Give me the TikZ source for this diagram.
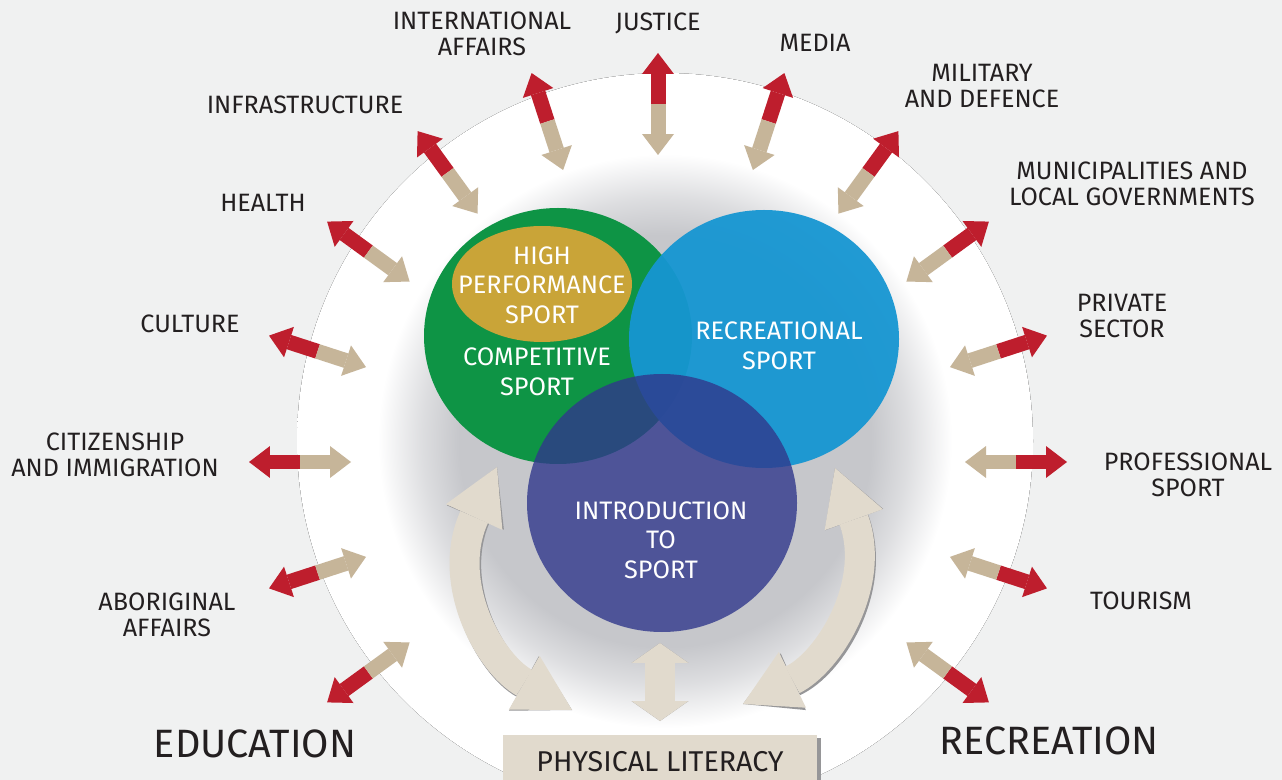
\documentclass[tikz,border=0pt]{standalone}
\usepackage{fontspec}
\setmainfont{Fira Sans}
\usetikzlibrary{arrows.meta}
\usetikzlibrary{calc}

\definecolor{bgGrey}{RGB}{240,241,241}
\definecolor{txtDark}{RGB}{35,31,32}
\definecolor{compGreen}{RGB}{14,148,69}
\definecolor{recBlue}{RGB}{22,150,210}
\definecolor{introBlue}{RGB}{48,56,140}
\definecolor{hpsGold}{RGB}{201,164,56}
\definecolor{armRed}{RGB}{190,30,45}
\definecolor{armTan}{RGB}{198,181,153}
\definecolor{plTan}{RGB}{225,218,205}
\definecolor{haloGrey}{RGB}{198,199,203}
\definecolor{shadowGrey}{RGB}{150,150,152}

\pgfdeclareradialshading{halo}{\pgfpoint{0bp}{0bp}}{%
  color(0bp)=(haloGrey); color(14bp)=(haloGrey);
  color(16.5bp)=(haloGrey!60!white); color(19.5bp)=(white);
  color(25bp)=(white); color(50bp)=(white)}

\tikzset{
  lbl/.style={text=txtDark, font=\fontsize{14.3}{14.8}\selectfont, align=center, inner sep=0pt},
  biglbl/.style={text=txtDark, font=\fontsize{22.5}{26}\selectfont, inner sep=0pt},
  inlbl/.style={text=white, font=\fontsize{14.4}{16.8}\selectfont, align=center, inner sep=0pt},
  redarm/.style={draw=armRed, line width=0.3cm,
    -{Triangle[width=0.64cm,length=0.42cm,line width=0pt 0 0]}},
  tanarm/.style={draw=armTan, line width=0.3cm,
    -{Triangle[width=0.64cm,length=0.42cm,line width=0pt 0 0]}},
  swoop/.style={line width=0.6cm,
    {Triangle[width=1.24cm,length=1.1cm,line width=0pt 0 0]}-{Triangle[width=1.24cm,length=1.1cm,line width=0pt 0 0]}},
  updown/.style={line width=0.6cm,
    {Triangle[width=1.14cm,length=0.4cm,line width=0pt 0 0]}-{Triangle[width=1.14cm,length=0.4cm,line width=0pt 0 0]}},
}

\begin{document}
\begin{tikzpicture}[x=0.02cm, y=-0.02cm]
  \useasboundingbox (0,0) rectangle (1282,780);
  \clip (0,0) rectangle (1282,780);
  \fill[bgGrey] (0,0) rectangle (1282,780);

  % white disc with grey halo
  \fill[shading=halo] (665,441) circle [radius=368];

  % the three sport circles
  \fill[compGreen] (558,336) ellipse [x radius=134, y radius=128];
  \fill[hpsGold] (542,284) ellipse [x radius=90, y radius=58];
  \fill[recBlue, opacity=.95] (764,339) ellipse [x radius=135, y radius=129];
  \fill[introBlue, opacity=.8] (662,503) ellipse [x radius=135, y radius=129];

  \node[inlbl] (hps) at (542,285) {HIGH\\PERFORMANCE\\SPORT};
  \node[inlbl] (comp) at (537,372) {COMPETITIVE\\SPORT};
  \node[inlbl] (recr) at (779,346) {RECREATIONAL\\SPORT};
  \node[inlbl] (intro) at (661,540) {INTRODUCTION\\TO\\SPORT};

  % radial arms, red outwards, tan inwards
  \coordinate (hub) at (658,462);
  \foreach \a [count=\k] in {-36,-18,...,216}{
    \coordinate (m\k) at ($(hub)+(-\a:358)$);
    \coordinate (o\k) at ($(hub)+(-\a:409)$);
    \coordinate (i\k) at ($(hub)+(-\a:307)$);
    \draw[redarm] (m\k) -- (o\k);
    \draw[tanarm] (m\k) -- (i\k);
  }

  % curved arrows down to physical literacy
  \coordinate (lt) at (497,467);
  \coordinate (lb) at (572,710);
  \coordinate (rt) at (835,468);
  \coordinate (rb) at (743,704);
  \coordinate (mt) at (660,643);
  \coordinate (mb) at (660,721);
  \begin{scope}[shift={(2,3)}]
    \draw[swoop, shadowGrey] (lt) .. controls (445,581) and (488,662) .. (lb);
    \draw[swoop, shadowGrey] (rt) .. controls (877,584) and (829,662) .. (rb);
    \draw[updown, shadowGrey] (mt) -- (mb);
  \end{scope}
  \draw[swoop, plTan] (lt) .. controls (445,581) and (488,662) .. (lb);
  \draw[swoop, plTan] (rt) .. controls (877,584) and (829,662) .. (rb);
  \draw[updown, plTan] (mt) -- (mb);

  \fill[shadowGrey] (506,738) rectangle (821,790);
  \node[fill=plTan, minimum width=6.3cm, minimum height=1.1cm, inner sep=0pt,
    text=txtDark, font=\fontsize{16.3}{19}\selectfont] (phys) at (660,762) {PHYSICAL LITERACY};

  % outer labels
  \node[lbl] (just) at (658,23) {JUSTICE};
  \node[lbl] (media) at (815,43) {MEDIA};
  \node[lbl] (milit) at (982,86) {MILITARY\\AND DEFENCE};
  \node[lbl] (muni) at (1132,184) {MUNICIPALITIES AND\\LOCAL GOVERNMENTS};
  \node[lbl] (priv) at (1122,316) {PRIVATE\\SECTOR};
  \node[lbl] (prof) at (1188,475) {PROFESSIONAL\\SPORT};
  \node[lbl] (tour) at (1141,601) {TOURISM};
  \node[lbl] (intl) at (482,34) {INTERNATIONAL\\AFFAIRS};
  \node[lbl] (infra) at (305,105) {INFRASTRUCTURE};
  \node[lbl] (health) at (263,203) {HEALTH};
  \node[lbl] (cult) at (190,324) {CULTURE};
  \node[lbl] (citz) at (115,455) {CITIZENSHIP\\AND IMMIGRATION};
  \node[lbl] (abor) at (167,615) {ABORIGINAL\\AFFAIRS};
  \node[biglbl] (educ) at (255,744) {EDUCATION};
  \node[biglbl] (recbig) at (1049,741) {RECREATION};
\end{tikzpicture}
\end{document}
